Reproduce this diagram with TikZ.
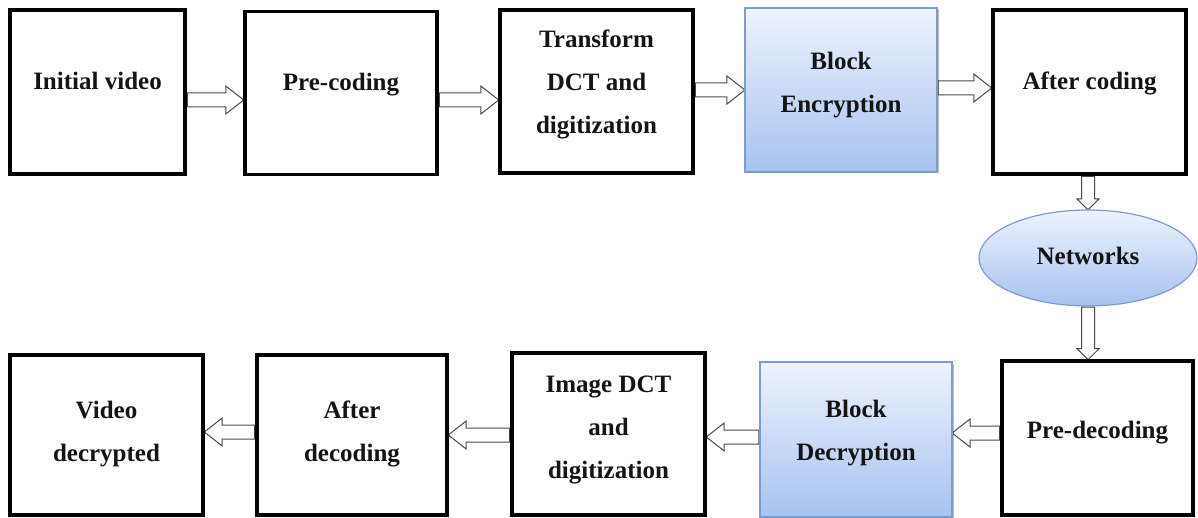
\documentclass[tikz,border=0pt]{standalone}
\usepackage{fontspec}
\setmainfont{Liberation Serif}
\usetikzlibrary{shapes.geometric,shapes.arrows,shadows,calc}

\definecolor{arrowline}{HTML}{4A4A4A}
\definecolor{bluetop}{HTML}{EEF3FD}
\definecolor{bluebot}{HTML}{A7C2F0}
\definecolor{blueedge}{HTML}{7C9BD0}
\definecolor{ink}{HTML}{141414}

\pgfdeclarelayer{behind}
\pgfsetlayers{behind,main}

\tikzset{
  stage/.style n args={2}{rectangle, draw=black, line width=3.6pt, fill=white,
    inner sep=0pt, minimum width=#1, minimum height=#2},
  cipher/.style n args={2}{rectangle, draw=blueedge, line width=1.2pt,
    top color=bluetop, bottom color=bluebot, inner sep=0pt,
    drop shadow={shadow xshift=1.5pt, shadow yshift=-1.5pt, opacity=0.25, fill=black},
    minimum width=#1, minimum height=#2},
  cloud/.style={ellipse, draw=blueedge, line width=1.2pt,
    top color=bluetop, bottom color=bluebot, inner sep=0pt,
    minimum width=218pt, minimum height=96pt},
  blocktext/.style={inner sep=0pt, anchor=north, align=center, text=ink,
    font=\fontsize{25}{43}\selectfont\bfseries},
  flow/.style={single arrow, draw=arrowline, fill=white, line width=1pt,
    inner xsep=0pt, inner ysep=6.5pt, single arrow head extend=7pt,
    single arrow tip angle=76},
  drop/.style={inner ysep=6pt, single arrow head extend=4.5pt,
    single arrow tip angle=90}
}

% hollow block arrow from a tail point to a tip point, kept behind the boxes
\newcommand\flowarrow[4][]{%
  \begin{pgfonlayer}{behind}
  \path let \p1=(#3), \p2=(#4),
            \n1={veclen(\x2-\x1,\y2-\y1)}, \n2={atan2(\y2-\y1,\x2-\x1)} in
    node (#2) [flow,#1,minimum height=\n1,rotate=\n2,anchor=tail] at (\p1) {};
  \end{pgfonlayer}}

\begin{document}
\begin{tikzpicture}[x=1pt,y=1pt]
\begin{pgfonlayer}{behind}
  \path[use as bounding box, fill=white] (0,0) rectangle (1198,-518);
\end{pgfonlayer}

% encoding chain
\node (b1) [stage={175pt}{164pt}]  at (97.5,-92)  {};
\node (b2) [stage={192pt}{163pt}]  at (341,-93)   {};
\node (b3) [stage={193pt}{163pt}]  at (596.5,-91.5) {};
\node (b4) [cipher={192pt}{164pt}] at (841,-90)   {};
\node (b5) [stage={193pt}{164pt}]  at (1089.5,-92) {};

% transmission
\node (net) [cloud] at (1088,-258) {};

% decoding chain
\node (b10) [stage={191pt}{154pt}]  at (1097.5,-438) {};
\node (b9)  [cipher={192pt}{155pt}] at (856,-439.5)  {};
\node (b8)  [stage={193pt}{162pt}]  at (608.5,-434)  {};
\node (b7)  [stage={190pt}{160pt}]  at (352,-435)    {};
\node (b6)  [stage={193pt}{160pt}]  at (106.5,-435)  {};

% captions
\node (t1)  [blocktext] at (b1.center |- 0,-72)  {Initial video};
\node (t2)  [blocktext] at (b2.center |- 0,-73)  {Pre-coding};
\node (t3)  [blocktext] at (b3.center |- 0,-30)  {Transform\\DCT and\\digitization};
\node (t4)  [blocktext] at (b4.center |- 0,-52)  {Block\\Encryption};
\node (t5)  [blocktext] at (b5.center |- 0,-72)  {After coding};
\node (tn)  [blocktext] at (net.center |- 0,-247) {Networks};
\node (t10) [blocktext] at (b10.center |- 0,-421) {Pre-decoding};
\node (t9)  [blocktext] at (b9.center |- 0,-400)  {Block\\Decryption};
\node (t8)  [blocktext] at (b8.center |- 0,-376)  {Image DCT\\and\\digitization};
\node (t7)  [blocktext] at (b7.center |- 0,-401)  {After\\decoding};
\node (t6)  [blocktext] at (b6.center |- 0,-401)  {Video\\decrypted};

% connectors
\flowarrow{a1}{b1.east |- 0,-100}{b2.west |- 0,-100}
\flowarrow{a2}{b2.east |- 0,-100}{b3.west |- 0,-100}
\flowarrow{a3}{b3.east |- 0,-90}{b4.west |- 0,-90}
\flowarrow{a4}{b4.east |- 0,-88}{b5.west |- 0,-88}
\flowarrow[drop]{a5}{net.north |- b5.south}{net.north}
\flowarrow[drop]{a6}{net.south}{net.south |- b10.north}
\flowarrow{a7}{b10.west |- 0,-433}{b9.east |- 0,-433}
\flowarrow{a8}{b9.west |- 0,-437}{b8.east |- 0,-437}
\flowarrow{a9}{b8.west |- 0,-435}{b7.east |- 0,-435}
\flowarrow{a10}{b7.west |- 0,-432}{b6.east |- 0,-432}
\end{tikzpicture}
\end{document}
